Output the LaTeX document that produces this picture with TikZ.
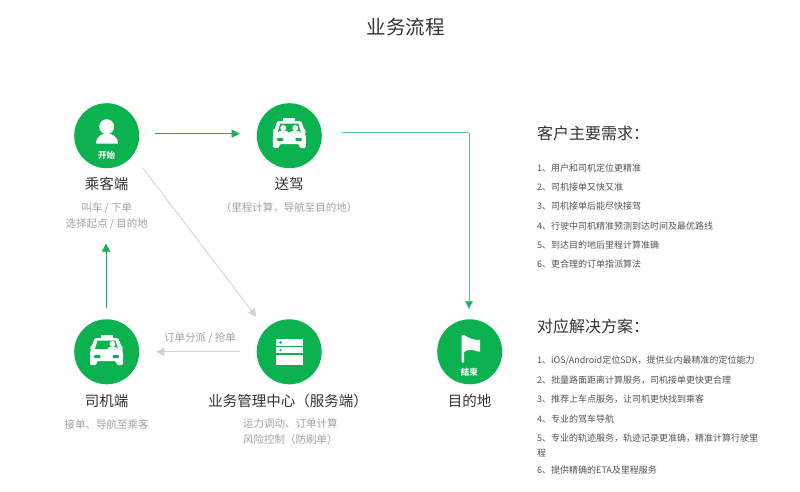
\documentclass[tikz,border=0pt]{standalone}
\usepackage{fontspec}
\setmainfont{Noto Sans CJK SC}
\usetikzlibrary{arrows.meta}
\definecolor{brand}{HTML}{0BB24F}
\definecolor{linegreen}{HTML}{5CC489}
\definecolor{linegray}{HTML}{CBD5D0}
\definecolor{headgray}{HTML}{333333}
\definecolor{subgray}{HTML}{A3A3A3}
\definecolor{itemgray}{HTML}{555555}
\tikzset{
  disc/.style={circle,fill=brand,draw=none,minimum size=65pt,inner sep=0pt},
  nodename/.style={font=\fontsize{14.5}{16}\selectfont,text=headgray,inner sep=0pt},
  subtext/.style={font=\fontsize{10.5}{16}\selectfont,text=subgray,inner sep=0pt,align=center},
  subleft/.style={subtext,align=left,anchor=north west},
  disctag/.style={font=\fontsize{8.5}{10}\selectfont\bfseries,text=white,inner sep=0pt},
  heading/.style={font=\fontsize{16}{20}\selectfont,text=headgray,anchor=west,inner sep=0pt},
  item/.style={font=\fontsize{9}{14.5}\selectfont,text=itemgray,anchor=west,inner sep=0pt,align=left},
  arrowgreen/.style={draw=brand,line width=.7pt,-{Triangle[length=8pt,width=8pt,fill=brand]}},
  arrowpale/.style={draw=linegreen,line width=.8pt,-{Triangle[length=8pt,width=8pt,fill=brand]}},
  arrowgray/.style={draw=linegray,line width=.8pt,-{Triangle[length=8pt,width=8pt,fill=linegray]}},
}
\newcommand{\taxibody}{%
  \fill[white] (-6,-15) rectangle (6,-11.5);
  \fill[white,rounded corners=1.5pt] (-12,-12) -- (12,-12) -- (15,-3) -- (16.5,-3) -- (16.5,-.5) -- (15,-.5) -- (16.5,2) -- (16.5,15) -- (10,15) -- (10,11) -- (-10,11) -- (-10,15) -- (-16.5,15) -- (-16.5,2) -- (-15,-.5) -- (-16.5,-.5) -- (-16.5,-3) -- (-15,-3) -- cycle;
  \fill[brand] (-9,-9.5) -- (9,-9.5) -- (11.5,-1) -- (-11.5,-1) -- cycle;
  \fill[brand,rounded corners=1pt] (-12.5,5) rectangle (-6,8);
  \fill[brand,rounded corners=1pt] (6,5) rectangle (12.5,8);
}
\begin{document}
\begin{tikzpicture}[x=1pt,y=-1pt]
\useasboundingbox[fill=white] (0,0) rectangle (800,491);
\node[font=\fontsize{19.5}{22}\selectfont,text=headgray,inner sep=0pt] (title) at (405.5,27) {业务流程};

\node[disc] (rider) at (106.7,135.7) {};
\node[disc] (ride) at (289.3,135.7) {};
\node[disc] (driver) at (106.7,351.8) {};
\node[disc] (server) at (289.2,351.8) {};
\node[disc] (dest) at (469.7,351.8) {};

% person
\fill[white] (106.7,126.7) circle (7.5);
\fill[white] (96,143.5) .. controls (96.5,136) and (102,133.5) .. (106.7,133.5) .. controls (112,133.5) and (117.5,136) .. (118,143.5) -- cycle;
\node[disctag] (starttag) at (106.7,155) {开始};

% passenger taxi
\begin{scope}[shift={(289.3,133)}]
  \taxibody
  \fill[white] (-6,-5) circle (3);
  \fill[white] (6,-5) circle (3);
  \fill[white] (-11,-1) .. controls (-10,-3) and (-2,-3) .. (-1,-1) -- cycle;
  \fill[white] (1,-1) .. controls (2,-3) and (10,-3) .. (11,-1) -- cycle;
\end{scope}

% driver taxi
\begin{scope}[shift={(106.5,350)}]
  \taxibody
  \fill[white] (6,-6) circle (3);
  \fill[white] (0.5,-1) .. controls (1.5,-4) and (10.5,-4) .. (11.5,-1) -- cycle;
\end{scope}

% server
\fill[white] (275.7,339.3) rectangle (302.7,345.7);
\fill[white] (275.7,347) rectangle (302.7,353.3);
\fill[white] (275.7,355) rectangle (302.7,365);
\fill[brand] (280.5,342.5) circle (1.3);
\fill[brand] (280.5,350.1) circle (1.3);

% flag
\fill[white,rounded corners=.8pt] (461.7,335) rectangle (464.2,362.7);
\fill[white] (464,335) .. controls (468,338) and (475,340.5) .. (480,340) -- (480,351.7) .. controls (475,352) and (472,347) .. (464,352) -- cycle;
\node[disctag] (endtag) at (469.3,372) {结束};

\node[nodename] (n1) at (106.7,184) {乘客端};
\node[subtext] (s1) at (106.7,216) {叫车 / 下单\\选择起点 / 目的地};
\node[nodename] (n2) at (289,184) {送驾};
\node[subtext] (s2) at (289,208) {（里程计算，导航至目的地）};
\node[nodename] (n3) at (106.5,401) {司机端};
\node[subtext] (s3) at (106.5,424.5) {接单、导航至乘客};
\node[nodename] (n4) at (288,401) {业务管理中心（服务端）};
\node[subleft] (s4) at (243,418) {运力调动、订单计算\\风险控制（防刷单）};
\node[nodename] (n5) at (469.5,401) {目的地};
\node[subtext] (lab) at (200,338) {订单分派 / 抢单};

\draw[arrowgreen] ([shift={(16,-2)}]rider.east) -- ([shift={(-17,-2)}]ride.west);
\draw[draw=linegreen,line width=.8pt] ([shift={(20,-3)}]ride.east) -- ([shift={(-.7,-219.1)}]dest.center);
\draw[arrowpale] ([shift={(-.7,-219.1)}]dest.center) -- ([shift={(-.7,-10)}]dest.north);
\draw[arrowgray] ([shift={(36,32)}]rider.center) -- ([shift={(-33,-35)}]server.center);
\draw[arrowgray] ([shift={(-17,0)}]server.west) -- ([shift={(17,0)}]driver.east);
\draw[arrowgreen] ([shift={(-.7,-11)}]driver.north) -- ([shift={(-.7,14)}]s1.south);

\node[heading] (h1) at (537,133) {客户主要需求：};
\node[item] (a1) at (537,168) {1、用户和司机定位更精准};
\node[item] (a2) at (537,187) {2、司机接单又快又准};
\node[item] (a3) at (537,206.5) {3、司机接单后能尽快接驾};
\node[item] (a4) at (537,226) {4、行驶中司机精准预测到达时间及最优路线};
\node[item] (a5) at (537,245) {5、到达目的地后里程计算准确};
\node[item] (a6) at (537,264.5) {6、更合理的订单指派算法};

\node[heading] (h2) at (537,326) {对应解决方案：};
\node[item] (b1) at (537,360.5) {1、iOS/Android定位SDK，提供业内最精准的定位能力};
\node[item] (b2) at (537,380) {2、批量路面距离计算服务，司机接单更快更合理};
\node[item] (b3) at (537,399.5) {3、推荐上车点服务，让司机更快找到乘客};
\node[item] (b4) at (537,419) {4、专业的驾车导航};
\node[item] (b5) at (537,445.5) {5、专业的轨迹服务，轨迹记录更准确，精准计算行驶里\\程};
\node[item] (b6) at (537,470) {6、提供精确的ETA及里程服务};
\end{tikzpicture}
\end{document}
